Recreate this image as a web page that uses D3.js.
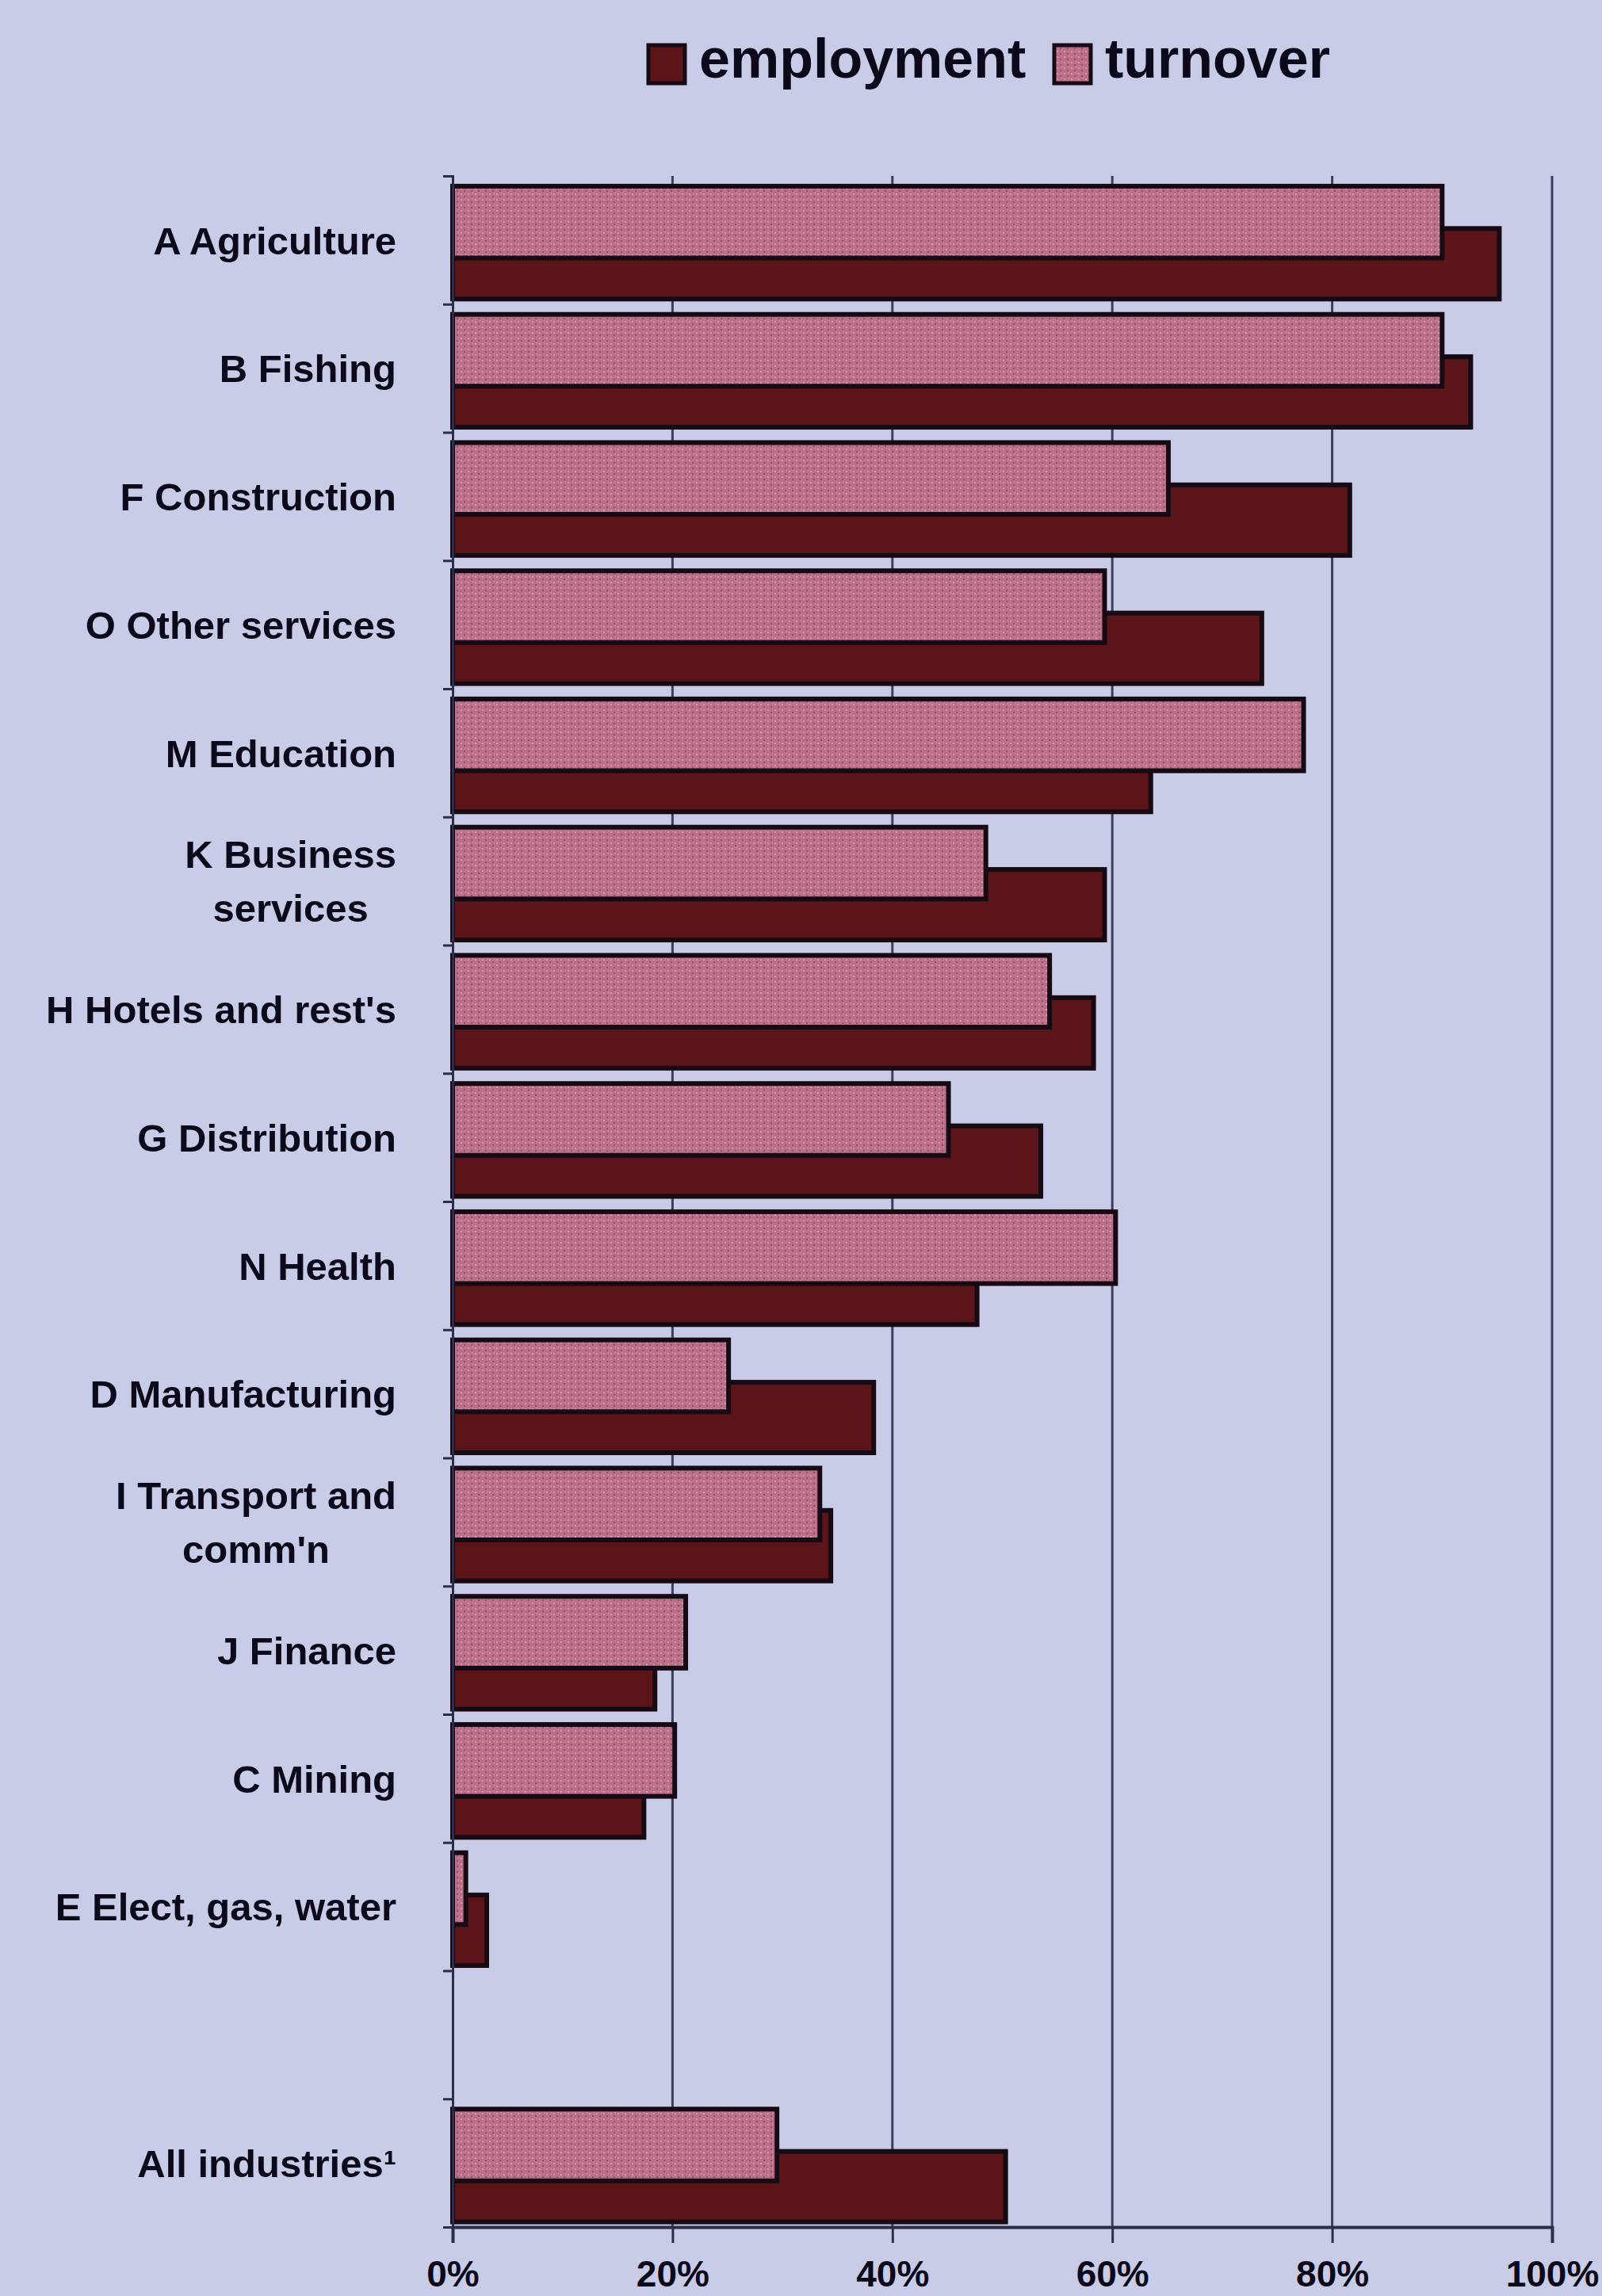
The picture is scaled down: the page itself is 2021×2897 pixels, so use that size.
<!DOCTYPE html>
<html>
<head>
<meta charset="utf-8">
<script src="https://cdn.jsdelivr.net/npm/d3@7"></script>
<style>
  html, body { margin: 0; padding: 0; background: #c9cce6; }
  svg { display: block; }
  text { font-family: "Liberation Sans", Arial, sans-serif; font-weight: bold; fill: #0c0a1a; }
</style>
</head>
<body>
<svg id="chart"></svg>
<script>
// data (share of total, %), blank slot kept as in original
let categories = ["A Agriculture", "B Fishing", "F Construction", "O Other services", "M Education",
  "K Business|services", "H Hotels and rest's", "G Distribution", "N Health", "D Manufacturing",
  "I Transport and|comm'n", "J Finance", "C Mining", "E Elect, gas, water", " ", "All industries\u00B9"];
let employment = [95.2, 92.6, 81.6, 73.6, 63.5, 59.3, 58.3, 53.5, 47.7, 38.3, 34.4, 18.4, 17.4, 3.1, null, 50.3];
let turnover   = [90.0, 90.0, 65.1, 59.3, 77.4, 48.5, 54.3, 45.1, 60.3, 25.1, 33.4, 21.2, 20.2, 1.2, null, 29.5];
let xTicks = [0, 20, 40, 60, 80, 100];
let seriesNames = ["employment", "turnover"];

let W = 2021, H = 2897;
let margin = {top: 222, right: 63, bottom: 87, left: 571};
let width = W - margin.left - margin.right,
    height = H - margin.top - margin.bottom;

let colEmp = "#5b1519", colTurn = "#ba7089", edge = "#160a14";

let svg = d3.select("#chart").attr("width", W).attr("height", H);

// speckled texture for the turnover bars
let defs = svg.append("defs");
let pat = defs.append("pattern").attr("id", "speckle")
  .attr("patternUnits", "userSpaceOnUse").attr("width", 9).attr("height", 7);
pat.append("rect").attr("width", 9).attr("height", 7).attr("fill", colTurn);
pat.append("rect").attr("x", 1).attr("y", 1).attr("width", 2).attr("height", 2).attr("fill", "#d596ab");
pat.append("rect").attr("x", 5).attr("y", 4).attr("width", 2).attr("height", 2).attr("fill", "#9d4e6c");
pat.append("rect").attr("x", 7).attr("y", 0).attr("width", 1).attr("height", 2).attr("fill", "#cf8aa2");

let g = svg.append("g").attr("transform", "translate(" + margin.left + "," + margin.top + ")");

let x = d3.scaleLinear().domain([0, 100]).range([0, width]);
let y = d3.scaleBand().domain(categories).range([0, height]).paddingInner(0).paddingOuter(0);
let yIdx = d3.scaleLinear().domain([0, categories.length]).range([0, height]);
let bw = y.bandwidth();

// vertical gridlines
g.append("g").selectAll("line")
  .data(xTicks.filter(d => d > 0))
  .join("line")
    .attr("x1", d => x(d)).attr("x2", d => x(d))
    .attr("y1", 0).attr("y2", height)
    .attr("stroke", "#3b3d5c").attr("stroke-width", 3);

let rows = categories.map((c, i) => ({cat: c, emp: employment[i], turn: turnover[i]}))
  .filter(d => d.emp != null);

// employment behind, turnover on top
g.append("g").selectAll("rect")
  .data(rows)
  .join("rect")
    .attr("x", 0)
    .attr("y", d => y(d.cat) + bw * 0.41)
    .attr("width", d => x(d.emp))
    .attr("height", bw * 0.55)
    .attr("fill", colEmp)
    .attr("stroke", edge).attr("stroke-width", 6);

g.append("g").selectAll("rect")
  .data(rows)
  .join("rect")
    .attr("x", 0)
    .attr("y", d => y(d.cat) + bw * 0.08)
    .attr("width", d => x(d.turn))
    .attr("height", bw * 0.56)
    .attr("fill", "url(#speckle)")
    .attr("stroke", edge).attr("stroke-width", 6);

// y axis with ticks at category boundaries
let yAxis = g.append("g")
  .call(d3.axisLeft(yIdx).ticks(categories.length).tickSize(12).tickFormat(""));
yAxis.select(".domain").attr("stroke", "#2c2d48").attr("stroke-width", 3);
yAxis.selectAll(".tick line").attr("stroke", "#2c2d48").attr("stroke-width", 3);

// category labels, wrapped lines centred on each other, block right aligned
let labelRight = -71;
categories.forEach(function(c) {
  let lines = c.split("|");
  let t = g.append("text")
    .attr("font-size", 49)
    .attr("text-anchor", "middle");
  lines.forEach(function(l, k) {
    t.append("tspan").text(l);
  });
  // measure widest line to right-align the block
  let spans = t.selectAll("tspan").nodes();
  let maxW = d3.max(spans, s => s.getComputedTextLength());
  let cx = labelRight - maxW / 2;
  let cy = y(c) + bw / 2;
  let lh = 68;
  spans.forEach(function(s, k) {
    d3.select(s).attr("x", cx)
      .attr("y", cy + (k - (lines.length - 1) / 2) * lh)
      .attr("dy", "0.36em");
  });
});

// x axis
let xAxis = g.append("g")
  .attr("transform", "translate(0," + height + ")")
  .call(d3.axisBottom(x).tickValues(xTicks).tickSize(20).tickPadding(22).tickFormat(d => d + "%"));
xAxis.select(".domain").attr("stroke", "#2c2d48").attr("stroke-width", 4);
xAxis.selectAll(".tick line").attr("stroke", "#2c2d48").attr("stroke-width", 3);
xAxis.selectAll(".tick text")
  .attr("font-size", 46)
  .attr("font-family", "'Liberation Sans', Arial, sans-serif")
  .attr("font-weight", "bold")
  .attr("fill", "#0c0a1a");

// legend
let legend = svg.append("g");
let legendX = [818, 1330];
seriesNames.forEach(function(name, i) {
  legend.append("rect")
    .attr("x", legendX[i]).attr("y", 57)
    .attr("width", 46).attr("height", 48)
    .attr("fill", i === 0 ? colEmp : "url(#speckle)")
    .attr("stroke", edge).attr("stroke-width", 5);
  legend.append("text")
    .attr("x", legendX[i] + 64).attr("y", 98)
    .attr("font-size", 70)
    .text(name);
});
</script>
</body>
</html>
